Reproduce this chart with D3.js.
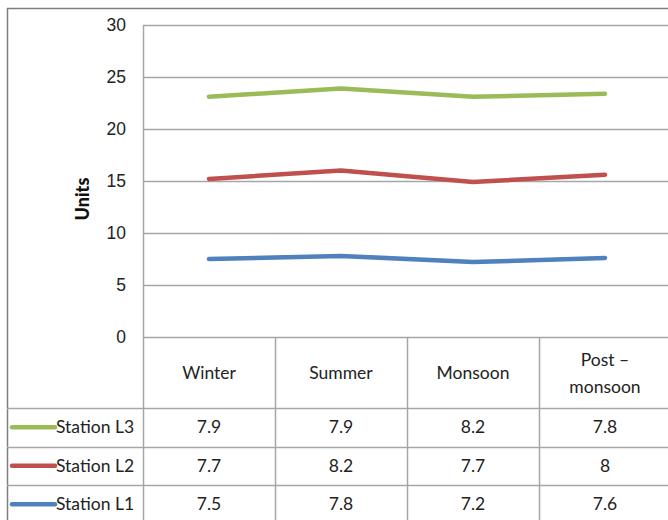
<!DOCTYPE html>
<html>
<head>
<meta charset="utf-8">
<script src="https://cdn.jsdelivr.net/npm/d3@7"></script>
<style>
  html, body { margin: 0; padding: 0; background: #fff; }
  svg { display: block; font-family: Lato, "Open Sans", sans-serif; }
</style>
</head>
<body>
<svg id="chart" width="668" height="520"></svg>
<script>
// Seasons along the horizontal axis
const seasons = ["Winter", "Summer", "Monsoon", "Post – monsoon"];
// Station readings per season (stacked in the plot, raw in the table)
const stationL1 = [7.5, 7.8, 7.2, 7.6];
const stationL2 = [7.7, 8.2, 7.7, 8];
const stationL3 = [7.9, 7.9, 8.2, 7.8];
const seriesNames = ["Station L1", "Station L2", "Station L3"];
const seriesColors = ["#4F81BD", "#C0504D", "#9BBB59"];
const yTicks = [0, 5, 10, 15, 20, 25, 30];

const svg = d3.select("#chart");
const plotLeft = 143, plotTop = 25, plotBottom = 337;
const colW = 132;
const plotRight = plotLeft + colW * seasons.length;
const fs = 17.5;

const x = d3.scaleBand().domain(seasons).range([plotLeft, plotRight]);
const y = d3.scaleLinear().domain([0, 30]).range([plotBottom, plotTop]);

// Stacked series
const rows = seasons.map((s, i) => ({
  season: s, "Station L1": stationL1[i], "Station L2": stationL2[i], "Station L3": stationL3[i]
}));
const stacked = d3.stack().keys(seriesNames)(rows);

const gridColor = "#a6a6a6";

// Outer frame
svg.append("line").attr("x1", 7).attr("x2", 668).attr("y1", 8.5).attr("y2", 8.5)
  .attr("stroke", "#7f7f7f").attr("stroke-width", 1.5);
svg.append("line").attr("x1", 7.5).attr("x2", 7.5).attr("y1", 8).attr("y2", 520)
  .attr("stroke", "#7f7f7f").attr("stroke-width", 1.5);

// Value axis labels
const yAxis = d3.axisLeft(y).tickValues(yTicks).tickSize(0).tickPadding(17)
  .tickFormat(d3.format("d"));
const gy = svg.append("g").attr("transform", `translate(${plotLeft},0)`).call(yAxis);
gy.select(".domain").remove();
gy.selectAll("text").attr("font-size", fs).attr("fill", "#222").attr("font-family", null);

// Horizontal gridlines
svg.append("g").selectAll("line").data(yTicks).join("line")
  .attr("x1", plotLeft).attr("x2", plotRight)
  .attr("y1", d => Math.round(y(d)) + 0.5).attr("y2", d => Math.round(y(d)) + 0.5)
  .attr("stroke", gridColor).attr("stroke-width", 1.5);

// Vertical axis line through plot and table
svg.append("line").attr("x1", plotLeft + 0.5).attr("x2", plotLeft + 0.5)
  .attr("y1", plotTop).attr("y2", 520).attr("stroke", gridColor).attr("stroke-width", 1.5);

// Axis title
svg.append("text").attr("transform", "translate(89,199) rotate(-90)")
  .attr("text-anchor", "middle").attr("font-weight", 900).attr("font-size", 18)
  .attr("fill", "#111").text("Units");

// Lines
const line = d3.line()
  .x(d => x(d.data.season) + x.bandwidth() / 2)
  .y(d => y(d[1]));
svg.append("g").selectAll("path").data(stacked).join("path")
  .attr("d", line).attr("fill", "none")
  .attr("stroke", (d, i) => seriesColors[i]).attr("stroke-width", 4.5)
  .attr("stroke-linecap", "round").attr("stroke-linejoin", "round");

// Data table
const headerTop = 338, headerBottom = 408;
const rowH = 38.5;
const tableRows = [
  { name: "Station L3", values: stationL3, color: seriesColors[2] },
  { name: "Station L2", values: stationL2, color: seriesColors[1] },
  { name: "Station L1", values: stationL1, color: seriesColors[0] }
];

// Column separators
svg.append("g").selectAll("line").data(seasons.slice(1)).join("line")
  .attr("x1", d => Math.round(x(d)) + 0.5).attr("x2", d => Math.round(x(d)) + 0.5)
  .attr("y1", headerTop).attr("y2", 520)
  .attr("stroke", gridColor).attr("stroke-width", 1.5);

// Row separators
svg.append("g").selectAll("line").data(tableRows).join("line")
  .attr("x1", 7).attr("x2", plotRight)
  .attr("y1", (d, i) => Math.round(headerBottom + i * rowH) + 0.5)
  .attr("y2", (d, i) => Math.round(headerBottom + i * rowH) + 0.5)
  .attr("stroke", gridColor).attr("stroke-width", 1.5);

// Category headers
const hdr = svg.append("g").selectAll("text").data(seasons).join("text")
  .attr("x", d => x(d) + x.bandwidth() / 2)
  .attr("text-anchor", "middle").attr("font-size", fs).attr("fill", "#222");
hdr.each(function (d) {
  const t = d3.select(this);
  const parts = d.indexOf(" – ") >= 0 ? [d.split(" – ")[0] + " –", d.split(" – ")[1]] : [d];
  const cy = (headerTop + headerBottom) / 2;
  parts.forEach((p, k) => {
    t.append("tspan").attr("x", x(d) + x.bandwidth() / 2)
      .attr("y", cy + 6 + (k - (parts.length - 1) / 2) * 27).text(p);
  });
});

// Table rows with legend keys and values
tableRows.forEach((r, i) => {
  const cy = headerBottom + i * rowH + rowH / 2;
  svg.append("line").attr("x1", 12).attr("x2", 55).attr("y1", cy).attr("y2", cy)
    .attr("stroke", r.color).attr("stroke-width", 4.5).attr("stroke-linecap", "round");
  svg.append("text").attr("x", 56).attr("y", cy + 6).attr("font-size", fs)
    .attr("fill", "#222").text(r.name);
  svg.append("g").selectAll("text").data(r.values).join("text")
    .attr("x", (d, j) => x(seasons[j]) + x.bandwidth() / 2).attr("y", cy + 6)
    .attr("text-anchor", "middle").attr("font-size", fs).attr("fill", "#222")
    .text(d => d);
});
</script>
</body>
</html>
